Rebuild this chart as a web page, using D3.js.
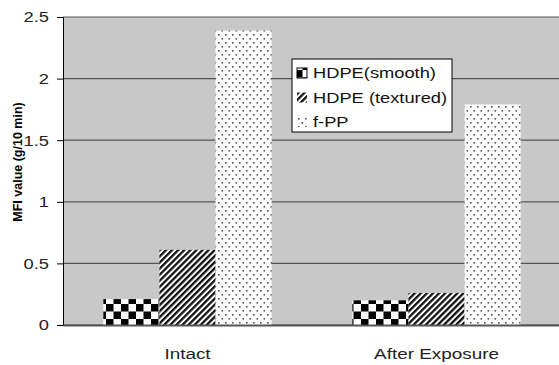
<!DOCTYPE html>
<html>
<head>
<meta charset="utf-8">
<script src="https://cdn.jsdelivr.net/npm/d3@7"></script>
<style>
  body { margin: 0; background: #fff; }
  text { font-family: "Liberation Sans", Arial, sans-serif; }
</style>
</head>
<body>
<div id="chart"></div>
<script>
// data
var categories = ["Intact", "After Exposure"]
var series = ["HDPE(smooth)", "HDPE (textured)", "f-PP"]
var smooth = [0.21, 0.20]
var textured = [0.61, 0.26]
var fpp = [2.39, 1.79]
var yTicks = [0, 0.5, 1, 1.5, 2, 2.5]

var values = [smooth, textured, fpp]

// the original picture is stretched a bit sideways
var sx = 1.22

var margin = {top: 17, right: -2, bottom: 40, left: 63},
    width = 559 - margin.left - margin.right,
    height = 365 - margin.top - margin.bottom;

var svg = d3.select("#chart")
  .append("svg")
    .attr("width", 559)
    .attr("height", 365)

var defs = svg.append("defs")

// checker pattern
var pc = defs.append("pattern").attr("id", "checker")
  .attr("patternUnits", "userSpaceOnUse").attr("width", 15).attr("height", 15)
  .attr("x", 103).attr("y", 2)
pc.append("rect").attr("width", 15).attr("height", 15).attr("fill", "#fff")
pc.append("rect").attr("width", 7.5).attr("height", 7.5).attr("fill", "#000")
pc.append("rect").attr("x", 7.5).attr("y", 7.5).attr("width", 7.5).attr("height", 7.5).attr("fill", "#000")

// diagonal hatch
var ph = defs.append("pattern").attr("id", "hatch")
  .attr("patternUnits", "userSpaceOnUse").attr("width", 4.3).attr("height", 4.3)
  .attr("patternTransform", "rotate(45)")
ph.append("rect").attr("width", 4.3).attr("height", 4.3).attr("fill", "#fff")
ph.append("rect").attr("width", 2.3).attr("height", 4.3).attr("fill", "#111")

// dots
var pd = defs.append("pattern").attr("id", "dots")
  .attr("patternUnits", "userSpaceOnUse").attr("width", 7).attr("height", 8)
pd.append("rect").attr("width", 7).attr("height", 8).attr("fill", "#fff")
pd.append("rect").attr("x", 1).attr("y", 1).attr("width", 1.6).attr("height", 1.6).attr("fill", "#555")
pd.append("rect").attr("x", 4.5).attr("y", 5).attr("width", 1.6).attr("height", 1.6).attr("fill", "#555")

var fills = ["url(#checker)", "url(#hatch)", "url(#dots)"]

var g = svg.append("g")
    .attr("transform", "translate(" + margin.left + "," + margin.top + ")")

var x = d3.scaleBand().domain(categories).range([0, width])
var xs = d3.scaleBand().domain(series).range([0, x.bandwidth()]).paddingOuter(0.72)
var y = d3.scaleLinear().domain([0, 2.5]).range([height, 0])

// plot background
g.append("rect").attr("width", width).attr("height", height).attr("fill", "#c8c8c8")

// gridlines
g.append("g").selectAll("line").data(yTicks).enter().append("line")
  .attr("x1", 0).attr("x2", width)
  .attr("y1", d => y(d)).attr("y2", d => y(d))
  .attr("stroke", "#555").attr("stroke-width", 1.2)

// bars
series.forEach(function (s, i) {
  g.append("g").selectAll("rect").data(categories).enter().append("rect")
    .attr("x", c => x(c) + xs(s))
    .attr("y", (c, j) => y(values[i][j]))
    .attr("width", xs.bandwidth())
    .attr("height", (c, j) => height - y(values[i][j]))
    .attr("fill", fills[i])
})

// y axis
var ya = g.append("g")
  .call(d3.axisLeft(y).tickValues(yTicks).tickFormat(d3.format("")).tickSize(6))
ya.select(".domain").attr("stroke", "#000")
ya.selectAll("text").attr("x", -14 / sx).attr("transform", "scale(" + sx + ",1)")
  .attr("font-size", 15).attr("fill", "#222")

// x axis
var xa = g.append("g")
  .attr("transform", "translate(0," + height + ")")
  .call(d3.axisBottom(x).tickSize(0).tickPadding(23))
xa.select(".domain").attr("stroke", "#555").attr("stroke-width", 2)
xa.selectAll("text").attr("transform", "scale(" + sx + ",1)")
  .attr("font-size", 15.5).attr("fill", "#222")

// y title
svg.append("text")
  .attr("transform", "translate(22," + (margin.top + 145) + ") rotate(-90)")
  .attr("text-anchor", "middle")
  .attr("font-size", 12.5).attr("font-weight", "bold")
  .text("MFI value (g/10 min)")

// legend
var lg = svg.append("g").attr("transform", "translate(292,59)")
lg.append("rect").attr("width", 160).attr("height", 73)
  .attr("fill", "#fff").attr("stroke", "#000").attr("stroke-width", 1)
series.forEach(function (s, i) {
  var row = lg.append("g").attr("transform", "translate(5," + (9 + i * 24.5) + ")")
  row.append("rect").attr("width", 10).attr("height", 10).attr("fill", fills[i])
    .attr("stroke", i == 0 ? "#000" : "none")
  row.append("text").attr("x", 16 / sx).attr("y", 10).attr("transform", "scale(" + sx + ",1)")
    .attr("font-size", 15).attr("fill", "#111").text(s)
})
</script>
</body>
</html>
